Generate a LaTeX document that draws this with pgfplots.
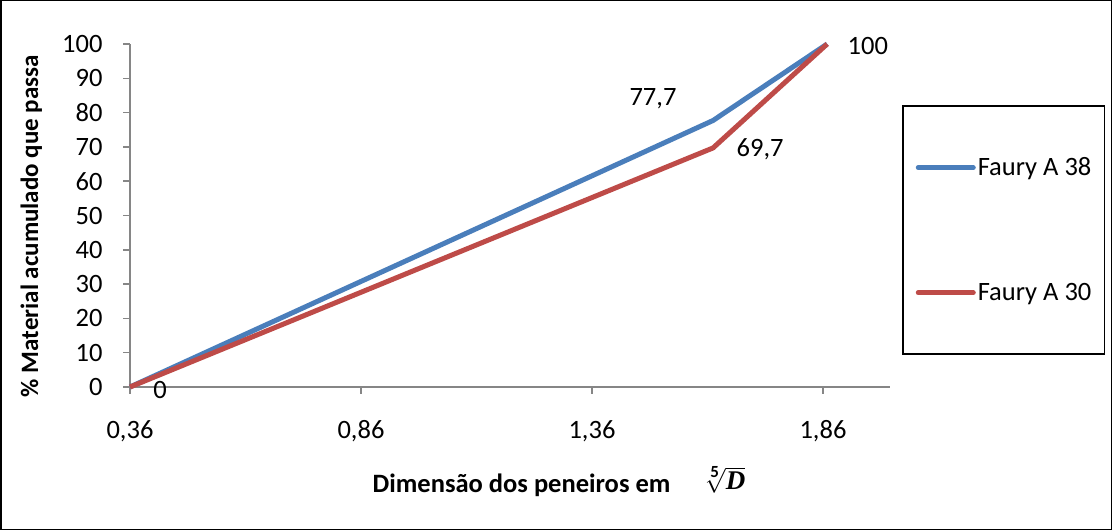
\documentclass[border=0pt]{standalone}
\usepackage{fontspec}
\setmainfont{Carlito}
\newfontfamily\serifbi{Liberation Serif}
\usepackage{pgfplots}
\pgfplotsset{compat=1.18}
\definecolor{cblue}{HTML}{4A7EBB}
\definecolor{cred}{HTML}{BE4B48}
\definecolor{cgray}{HTML}{868686}
\newcommand\ff{\fontsize{26.5bp}{31bp}\selectfont}
\newcommand\fb{\fontsize{25bp}{30bp}\selectfont}
\begin{document}
\begin{tikzpicture}
\useasboundingbox (0,0) rectangle (1112bp,530bp);
\draw[black, line width=1.5bp] (0.75bp,0.75bp) rectangle (1111.25bp,529.25bp);
\begin{axis}[
  at={(130bp,143bp)}, anchor=south west,
  width=760bp, height=343bp, scale only axis,
  xmin=0.36, xmax=2.005, ymin=0, ymax=100,
  axis lines*=left,
  axis line style={cgray, line width=1.5bp},
  every tick/.style={cgray, line width=1.5bp},
  major tick length=7bp,
  tick align=outside,
  xtick={0.36,0.86,1.36,1.86},
  xticklabels={{0,36},{0,86},{1,36},{1,86}},
  ytick={0,10,...,100},
  /pgf/number format/assume math mode=true,
  tick label style={font=\ff},
  xticklabel style={yshift=-23bp},
  yticklabel style={xshift=-17bp},
  label style={font=\fb\bfseries},
  ylabel={\% Material acumulado que passa},
  ylabel style={at={(axis description cs:-0.130,0.469)}, anchor=center},
  xlabel={\fontsize{26.5bp}{31bp}\selectfont Dimensão dos peneiros em\hspace{33bp}\raisebox{3bp}{\fontsize{34bp}{38bp}\selectfont$\sqrt[\mathbf{5}]{\hbox{\fontsize{27bp}{30bp}\selectfont\serifbi\bfseries\itshape D}}$}},
  xlabel style={at={(axis description cs:0.5645,-0.309)}, anchor=base},
  clip=false,
  legend cell align=left,
  legend image code/.code={\draw[#1, line cap=round] (0bp,0bp) -- (55bp,0bp);},
  legend style={at={(axis description cs:1.0158,0.822)}, anchor=north west,
    draw=black, line width=1.5bp, font=\ff, inner xsep=13bp, inner ysep=52bp,
    row sep=106bp, column sep=2bp, nodes={inner sep=0bp}},
]
\addplot[cblue, line width=5bp, line join=round] coordinates {(0.36,0) (1.622,77.7) (1.869,100)};
\addlegendentry{Faury A 38}
\addplot[cred, line width=5bp, line join=round] coordinates {(0.36,0) (1.622,69.7) (1.869,100)};
\addlegendentry{Faury A 30}
\node[font=\ff] at (axis cs:0.425,-1) {0};
\node[font=\ff] at (axis cs:1.492,84) {77,7};
\node[font=\ff] at (axis cs:1.724,69.4) {69,7};
\node[font=\ff] at (axis cs:1.957,99.4) {100};
\end{axis}
\end{tikzpicture}
\end{document}
